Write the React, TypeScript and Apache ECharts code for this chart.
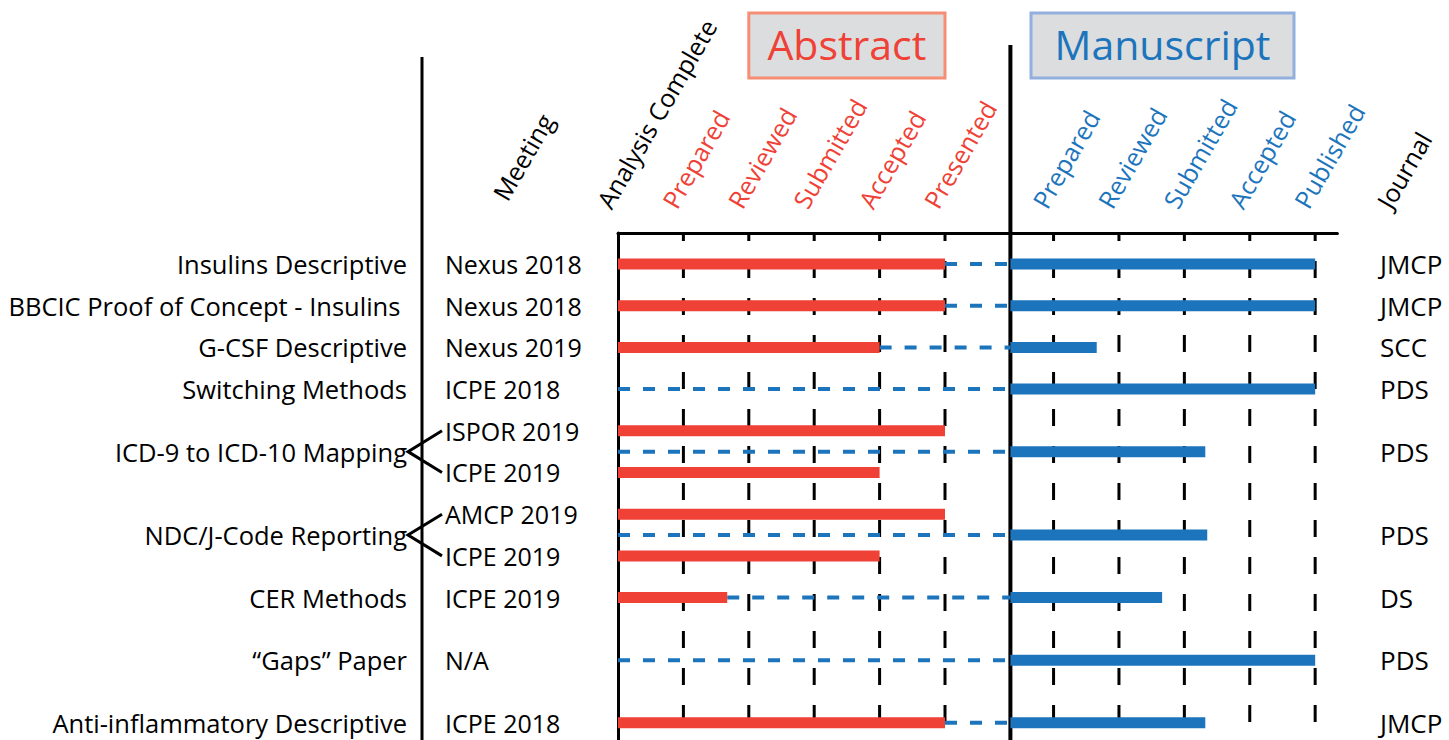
import { useEffect, useRef } from "react";
import * as echarts from "echarts";

// ---------- data ----------
const projects = [
  "Insulins Descriptive",
  "BBCIC Proof of Concept - Insulins ",
  "G-CSF Descriptive",
  "Switching Methods",
  "ICD-9 to ICD-10 Mapping",
  "NDC/J-Code Reporting",
  "CER Methods",
  "\u201cGaps\u201d Paper",
  "Anti-inflammatory Descriptive",
];
const projectRows = [0, 1, 2, 3, 4.5, 6.5, 8, 9.5, 11];
const journals = ["JMCP", "JMCP", "SCC", "PDS", "PDS", "PDS", "DS", "PDS", "JMCP"];
// where the blue dashed connector starts (stage units)
const connectorStart = [5, 5, 4, 0, 0, 0, 1.67, 0, 5];
// where the manuscript bar ends (stage units)
const manuscriptEnd = [10.66, 10.66, 7.32, 10.66, 8.98, 9.01, 8.32, 10.66, 8.98];

const meetings = [
  "Nexus 2018", "Nexus 2018", "Nexus 2019", "ICPE 2018",
  "ISPOR 2019", "ICPE 2019", "AMCP 2019", "ICPE 2019",
  "ICPE 2019", "N/A", "ICPE 2018",
];
const meetingRows = [0, 1, 2, 3, 4, 5, 6, 7, 8, 9.5, 11];
// where the abstract bar ends (stage units); null = no abstract bar
const abstractEnd: (number | null)[] = [5, 5, 4, null, 5, 4, 5, 4, 1.67, null, 5];

// bracketed projects: [projectIndex, firstMeetingIndex, secondMeetingIndex]
const brackets = [
  [4, 4, 5],
  [5, 6, 7],
];

const startLabel = "Analysis Complete";
const startPos = 0;
const abstractStages = ["Prepared", "Reviewed", "Submitted", "Accepted", "Presented"];
const abstractPos = [1, 2, 3, 4, 5];
const manuscriptStages = ["Prepared", "Reviewed", "Submitted", "Accepted", "Published"];
const manuscriptPos = [6.66, 7.66, 8.66, 9.66, 10.66];
const manuscriptStart = 6;

// ---------- styles ----------
const RED = "#EF4136";
const BLUE = "#1C75BC";
const FONT = "'Open Sans', 'Noto Sans', sans-serif";
const ROT = (60 * Math.PI) / 180;

export default function App() {
  const ref = useRef<HTMLDivElement>(null);

  useEffect(() => {
    document.body.style.margin = "0";
    const chart = echarts.init(ref.current!, null, { renderer: "svg" });

    const redData = abstractEnd
      .map((e, i) => (e == null ? null : [0, e, meetingRows[i]]))
      .filter((d) => d != null);
    const dashData = connectorStart.map((s, i) => [s, manuscriptStart, projectRows[i]]);
    const blueData = manuscriptEnd.map((e, i) => [manuscriptStart, e, projectRows[i]]);
    const stageData = [...abstractPos, ...manuscriptPos].map((v) => [v]);

    const rectItem = (color: string) => (params: any, api: any) => {
      const s = api.coord([api.value(0), api.value(2)]);
      const e = api.coord([api.value(1), api.value(2)]);
      return {
        type: "rect",
        shape: { x: s[0], y: s[1] - 5.5, width: e[0] - s[0], height: 11 },
        style: { fill: color },
      };
    };

    chart.setOption({
      animation: false,
      grid: { left: 618, top: 233, width: 65.4 * 11, height: 507 },
      xAxis: {
        type: "value",
        min: 0,
        max: 11,
        position: "top",
        axisLine: { show: true, onZero: false, lineStyle: { color: "#000", width: 3 } },
        axisTick: { show: false },
        axisLabel: { show: false },
        splitLine: { show: false },
      },
      yAxis: {
        type: "value",
        inverse: true,
        min: -0.743,
        max: 11.415,
        axisLine: { show: true, onZero: false, lineStyle: { color: "#000", width: 3 } },
        axisTick: { show: false },
        axisLabel: { show: false },
        splitLine: { show: false },
      },
      series: [
        {
          type: "custom",
          data: stageData,
          encode: { x: 0 },
          renderItem: (params: any, api: any) => {
            const cs = params.coordSys;
            const p = api.coord([api.value(0), 0]);
            return {
              type: "line",
              shape: { x1: p[0], y1: cs.y, x2: p[0], y2: cs.y + cs.height },
              style: { stroke: "#000", lineWidth: 3, lineDash: [17, 20], lineDashOffset: 9 },
            };
          },
        },
        {
          type: "custom",
          data: dashData,
          encode: { x: [0, 1], y: 2 },
          renderItem: (params: any, api: any) => {
            const s = api.coord([api.value(0), api.value(2)]);
            const e = api.coord([api.value(1), api.value(2)]);
            return {
              type: "line",
              shape: { x1: s[0], y1: s[1], x2: e[0], y2: e[1] },
              style: { stroke: BLUE, lineWidth: 4, lineDash: [12, 13] },
            };
          },
        },
        {
          type: "custom",
          data: redData,
          encode: { x: [0, 1], y: 2 },
          renderItem: rectItem(RED),
        },
        {
          type: "custom",
          data: blueData,
          encode: { x: [0, 1], y: 2 },
          renderItem: rectItem(BLUE),
        },
      ],
    });

    const px = (v: number) => chart.convertToPixel({ xAxisIndex: 0 }, v) as number;
    const py = (v: number) => chart.convertToPixel({ yAxisIndex: 0 }, v) as number;

    const g: any[] = [];
    const txt = (text: string, x: number, y: number, opts: any = {}) => ({
      type: "text",
      x,
      y,
      rotation: opts.rotation || 0,
      style: {
        text,
        fill: opts.color || "#000",
        font: `${opts.size || 25}px ${FONT}`,
        align: opts.align || "left",
        verticalAlign: opts.va || "middle",
      },
    });

    // vertical separators
    g.push({ type: "line", shape: { x1: 422, y1: 57, x2: 422, y2: 740 }, style: { stroke: "#000", lineWidth: 3 } });
    const dx = px(manuscriptStart);
    g.push({ type: "line", shape: { x1: dx, y1: 45, x2: dx, y2: 740 }, style: { stroke: "#000", lineWidth: 4 } });

    // row labels
    projects.forEach((p, i) => g.push(txt(p, 407, py(projectRows[i]), { align: "right", size: 25.5 })));
    meetings.forEach((m, i) => g.push(txt(m, 445, py(meetingRows[i]), { size: 25 })));
    journals.forEach((j, i) => g.push(txt(j, 1380, py(projectRows[i]), { size: 26 })));

    // brackets
    brackets.forEach(([p, a, b]) => {
      g.push({
        type: "polyline",
        shape: {
          points: [
            [442, py(meetingRows[a])],
            [408, py(projectRows[p])],
            [442, py(meetingRows[b])],
          ],
        },
        style: { stroke: "#000", lineWidth: 3, fill: null },
      });
    });

    // rotated headers
    const hy = 212;
    const head = (t: string, x: number, y: number, color: string) =>
      g.push(txt(t, x, y, { rotation: ROT, va: "bottom", color, size: 25 }));
    head("Meeting", 510, 204, "#000");
    head(startLabel, px(startPos) - 4, hy, "#000");
    abstractStages.forEach((s, i) => head(s, px(abstractPos[i]) - 4, hy, RED));
    manuscriptStages.forEach((s, i) => head(s, px(manuscriptPos[i]) - 4, hy, BLUE));
    head("Journal", 1394, hy, "#000");

    // section boxes
    const box = (label: string, x: number, w: number, stroke: string, color: string) => {
      g.push({
        type: "rect",
        shape: { x, y: 13, width: w, height: 65 },
        style: { fill: "#DCDDDE", stroke, lineWidth: 3 },
      });
      g.push(txt(label, x + w / 2, 44, { align: "center", color, size: 41 }));
    };
    box("Abstract", px(abstractPos[1]), px(abstractPos[4]) - px(abstractPos[1]), "#F58E74", RED);
    box("Manuscript", 1031, 263, "#92AFDD", BLUE);

    chart.setOption({ graphic: g });

    return () => chart.dispose();
  }, []);

  return <div ref={ref} style={{ width: 1449, height: 740 }} />;
}
